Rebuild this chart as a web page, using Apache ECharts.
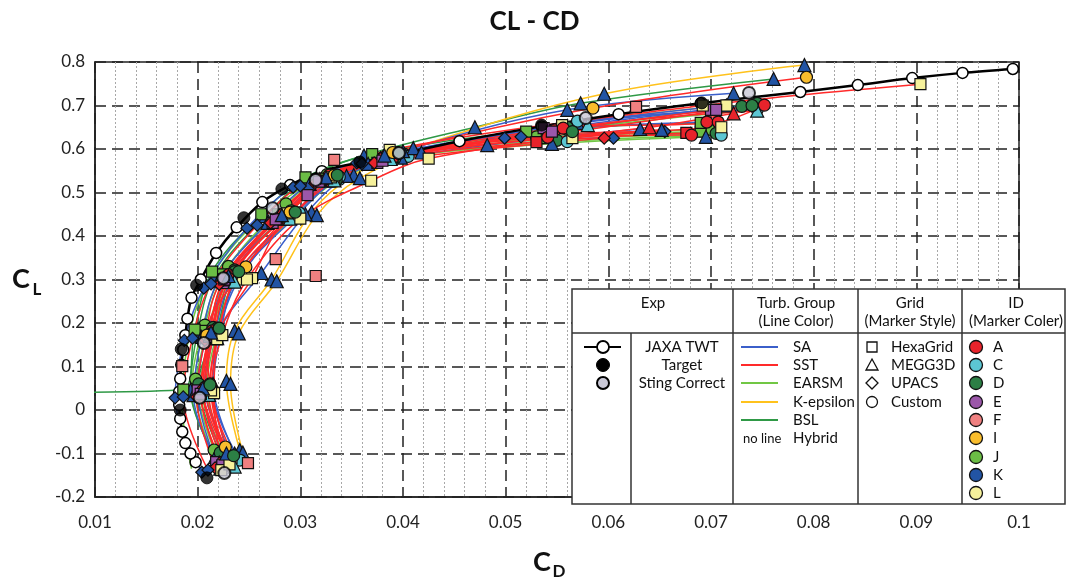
<!DOCTYPE html>
<html><head><meta charset="utf-8">
<script src="https://cdn.jsdelivr.net/npm/echarts@6/dist/echarts.min.js"></script>
<style>html,body{margin:0;padding:0;background:#fff}#c{width:1069px;height:583px}</style>
</head><body><div id="c"></div>
<script>
// ---------------- DATA ([CD, CL]) ----------------
// Experiment
const JAXA_TWT = [[0.0198,-0.120],[0.0193,-0.100],[0.0188,-0.076],[0.0185,-0.050],[0.0183,-0.020],[0.0182,0.012],[0.0182,0.042],[0.0183,0.072],[0.0184,0.104],[0.0186,0.138],[0.0188,0.172],[0.0190,0.210],[0.0194,0.258],[0.0203,0.300],[0.0218,0.361],[0.0238,0.420],[0.0263,0.478],[0.0290,0.517],[0.0321,0.549],[0.0380,0.580],[0.0455,0.618],[0.0535,0.652],[0.0610,0.680],[0.0690,0.705],[0.0787,0.731],[0.0843,0.747],[0.0896,0.763],[0.0945,0.775],[0.0994,0.784]];
const TARGET = [[0.0209,-0.156],[0.0183,0.000],[0.0184,0.140],[0.0199,0.287],[0.0245,0.442],[0.0282,0.508],[0.0358,0.570],[0.0535,0.655],[0.0691,0.706]];
const STING_CORRECT = [[0.0226,-0.145],[0.0202,0.028],[0.0206,0.154],[0.0225,0.303],[0.0273,0.464],[0.0315,0.529],[0.0396,0.591],[0.0578,0.671],[0.0737,0.729]];

// CFD – EARSM
const J_CUS_EARSM_1 = [[0.0216,-0.092],[0.0198,0.071],[0.0207,0.195],[0.0230,0.330],[0.0286,0.474],[0.0326,0.541],[0.0395,0.592],[0.0530,0.628],[0.0700,0.645]];
const J_HEX_EARSM = [[0.0219,-0.118],[0.0194,0.041],[0.0204,0.182],[0.0224,0.312],[0.0278,0.450],[0.0322,0.532],[0.0392,0.590],[0.0540,0.625],[0.0690,0.640]];
const D_CUS_EARSM = [[0.0226,-0.100],[0.0203,0.055],[0.0215,0.190],[0.0236,0.322],[0.0291,0.458],[0.0334,0.538],[0.0401,0.588],[0.0550,0.620],[0.0705,0.636]];
const C_CUS_EARSM = [[0.0232,-0.112],[0.0209,0.048],[0.0219,0.178],[0.0238,0.305],[0.0296,0.448],[0.0338,0.530],[0.0405,0.583],[0.0560,0.617],[0.0710,0.632]];
const K_MEG_EARSM = [[0.0219,-0.125],[0.0198,0.038],[0.0208,0.170],[0.0229,0.302],[0.0283,0.440],[0.0328,0.527],[0.0398,0.580],[0.0545,0.612],[0.0695,0.628]];
const J_CUS_EARSM_2 = [[0.0194,-0.135],[0.0185,0.010],[0.0190,0.150],[0.0203,0.260],[0.0232,0.370],[0.0272,0.462],[0.0330,0.545],[0.0420,0.600],[0.0580,0.650],[0.0740,0.690]];
// CFD – BSL
const K_MEG_BSL = [[0.0217,-0.108],[0.0193,0.046],[0.0200,0.180],[0.0217,0.310],[0.0266,0.446],[0.0306,0.531],[0.0362,0.585],[0.0470,0.650],[0.0573,0.705],[0.0761,0.761]];
const J_HEX_BSL = [[0.0020,0.040],[0.0186,0.047],[0.0197,0.185],[0.0214,0.318],[0.0262,0.450],[0.0305,0.535],[0.0370,0.588],[0.0520,0.640],[0.0690,0.660]];
const D_CUS_BSL = [[0.0222,-0.098],[0.0201,0.060],[0.0219,0.188],[0.0236,0.318],[0.0287,0.452],[0.0330,0.534],[0.0388,0.582],[0.0560,0.645],[0.0745,0.705]];
// CFD – K-epsilon
const K_MEG_KEPS = [[0.0241,-0.092],[0.0228,0.067],[0.0236,0.182],[0.0272,0.300],[0.0311,0.455],[0.0352,0.540],[0.0410,0.602],[0.0596,0.727],[0.0791,0.793]];
const K_MEG_KEPS_2 = [[0.0244,-0.098],[0.0232,0.060],[0.0240,0.176],[0.0277,0.296],[0.0316,0.448],[0.0358,0.533],[0.0418,0.592],[0.0570,0.660],[0.0715,0.700]];
// CFD – SA
const K_MEG_SA = [[0.0222,-0.135],[0.0196,0.034],[0.0204,0.168],[0.0220,0.296],[0.0268,0.430],[0.0309,0.520],[0.0366,0.566],[0.0482,0.609],[0.0631,0.646]];
const K_MEG_SA_2 = [[0.0236,-0.100],[0.0215,0.060],[0.0222,0.185],[0.0262,0.315],[0.0305,0.450],[0.0345,0.538],[0.0400,0.595],[0.0560,0.690],[0.0722,0.728]];
const K_UPA_SA = [[0.0204,-0.143],[0.0178,0.028],[0.0187,0.160],[0.0206,0.280],[0.0248,0.418],[0.0293,0.512],[0.0355,0.568],[0.0499,0.625],[0.0605,0.625]];
const A_CUS_SA = [[0.0232,-0.106],[0.0207,0.052],[0.0214,0.182],[0.0230,0.311],[0.0283,0.450],[0.0328,0.540],[0.0385,0.588],[0.0548,0.644],[0.0696,0.662]];
const C_CUS_SA = [[0.0241,-0.115],[0.0215,0.042],[0.0222,0.172],[0.0238,0.300],[0.0299,0.453],[0.0338,0.536],[0.0392,0.584],[0.0570,0.664],[0.0745,0.690]];
const E_HEX_SA = [[0.0218,-0.120],[0.0200,0.045],[0.0208,0.165],[0.0228,0.292],[0.0273,0.430],[0.0307,0.494],[0.0375,0.568],[0.0537,0.648],[0.0700,0.690]];
const D_CUS_SA = [[0.0229,-0.125],[0.0206,0.040],[0.0216,0.170],[0.0234,0.300],[0.0290,0.440],[0.0335,0.528],[0.0392,0.578],[0.0560,0.650],[0.0730,0.698]];
const L_HEX_SA = [[0.0233,-0.110],[0.0215,0.039],[0.0219,0.163],[0.0240,0.300],[0.0292,0.447],[0.0333,0.530],[0.0390,0.582],[0.0555,0.655],[0.0715,0.700]];
// CFD – SST
const A_HEX_SST = [[0.0226,-0.128],[0.0206,0.038],[0.0214,0.168],[0.0229,0.298],[0.0281,0.438],[0.0323,0.526],[0.0383,0.575],[0.0530,0.616],[0.0676,0.637]];
const A_MEG_SST = [[0.0221,-0.121],[0.0203,0.043],[0.0211,0.173],[0.0226,0.302],[0.0277,0.442],[0.0319,0.531],[0.0378,0.579],[0.0640,0.650],[0.0722,0.682]];
const A_UPA_SST = [[0.0217,-0.133],[0.0199,0.030],[0.0207,0.160],[0.0221,0.289],[0.0271,0.430],[0.0314,0.521],[0.0372,0.568],[0.0596,0.625]];
const A_CUS_SST = [[0.0230,-0.110],[0.0208,0.047],[0.0216,0.177],[0.0233,0.306],[0.0286,0.447],[0.0331,0.534],[0.0390,0.580],[0.0541,0.627],[0.0681,0.632]];
const A_CUS_SST_2 = [[0.0228,-0.118],[0.0205,0.045],[0.0213,0.175],[0.0230,0.303],[0.0284,0.444],[0.0327,0.532],[0.0386,0.581],[0.0556,0.648],[0.0707,0.662],[0.0752,0.701]];
const C_MEG_SST = [[0.0236,-0.130],[0.0211,0.035],[0.0219,0.165],[0.0236,0.295],[0.0290,0.440],[0.0333,0.528],[0.0388,0.577],[0.0580,0.655],[0.0745,0.688]];
const E_HEX_SST = [[0.0224,-0.127],[0.0203,0.037],[0.0211,0.168],[0.0226,0.300],[0.0276,0.438],[0.0318,0.525],[0.0380,0.573],[0.0545,0.640],[0.0705,0.690]];
const L_HEX_SST = [[0.0223,-0.138],[0.0216,0.039],[0.0219,0.163],[0.0253,0.303],[0.0287,0.452],[0.0330,0.535],[0.0387,0.598],[0.0692,0.700],[0.0904,0.749]];
const L_HEX_SST_2 = [[0.0231,-0.125],[0.0213,0.045],[0.0224,0.172],[0.0248,0.300],[0.0300,0.440],[0.0369,0.527],[0.0425,0.578],[0.0565,0.625],[0.0710,0.650]];
const I_CUS_SST = [[0.0227,-0.085],[0.0212,0.060],[0.0209,0.172],[0.0247,0.329],[0.0290,0.455],[0.0333,0.540],[0.0390,0.592],[0.0585,0.694],[0.0793,0.765]];
const K_UPA_SST = [[0.0210,-0.138],[0.0186,0.030],[0.0195,0.165],[0.0213,0.290],[0.0258,0.425],[0.0300,0.515],[0.0360,0.566],[0.0515,0.628],[0.0655,0.640]];
const K_MEG_SST = [[0.0228,-0.100],[0.0205,0.050],[0.0213,0.178],[0.0230,0.308],[0.0282,0.448],[0.0325,0.535],[0.0382,0.585],[0.0652,0.644]];
const D_CUS_SST = [[0.0235,-0.105],[0.0212,0.058],[0.0221,0.188],[0.0240,0.318],[0.0295,0.455],[0.0336,0.540],[0.0396,0.590],[0.0565,0.640],[0.0740,0.700]];
// CFD – Hybrid (no line)
const F_HEX_HYB = [[0.0249,-0.122],[0.0185,0.101],[0.0315,0.308],[0.0276,0.347],[0.0333,0.575],[0.0627,0.697]];

const CASES = [
  {id:'J', grid:'Custom', turb:'EARSM', data:J_CUS_EARSM_1},
  {id:'J', grid:'HexaGrid', turb:'EARSM', data:J_HEX_EARSM},
  {id:'D', grid:'Custom', turb:'EARSM', data:D_CUS_EARSM},
  {id:'C', grid:'Custom', turb:'EARSM', data:C_CUS_EARSM},
  {id:'K', grid:'MEGG3D', turb:'EARSM', data:K_MEG_EARSM},
  {id:'J', grid:'Custom', turb:'EARSM', data:J_CUS_EARSM_2, hideMarks:true},
  {id:'K', grid:'MEGG3D', turb:'BSL', data:K_MEG_BSL},
  {id:'J', grid:'HexaGrid', turb:'BSL', data:J_HEX_BSL},
  {id:'D', grid:'Custom', turb:'BSL', data:D_CUS_BSL},
  {id:'K', grid:'MEGG3D', turb:'K-epsilon', data:K_MEG_KEPS},
  {id:'K', grid:'MEGG3D', turb:'K-epsilon', data:K_MEG_KEPS_2},
  {id:'K', grid:'MEGG3D', turb:'SA', data:K_MEG_SA},
  {id:'K', grid:'MEGG3D', turb:'SA', data:K_MEG_SA_2},
  {id:'K', grid:'UPACS', turb:'SA', data:K_UPA_SA},
  {id:'A', grid:'Custom', turb:'SA', data:A_CUS_SA},
  {id:'C', grid:'Custom', turb:'SA', data:C_CUS_SA},
  {id:'E', grid:'HexaGrid', turb:'SA', data:E_HEX_SA},
  {id:'D', grid:'Custom', turb:'SA', data:D_CUS_SA},
  {id:'L', grid:'HexaGrid', turb:'SA', data:L_HEX_SA},
  {id:'A', grid:'HexaGrid', turb:'SST', data:A_HEX_SST},
  {id:'A', grid:'MEGG3D', turb:'SST', data:A_MEG_SST},
  {id:'A', grid:'UPACS', turb:'SST', data:A_UPA_SST},
  {id:'A', grid:'Custom', turb:'SST', data:A_CUS_SST},
  {id:'A', grid:'Custom', turb:'SST', data:A_CUS_SST_2},
  {id:'C', grid:'MEGG3D', turb:'SST', data:C_MEG_SST},
  {id:'E', grid:'HexaGrid', turb:'SST', data:E_HEX_SST},
  {id:'L', grid:'HexaGrid', turb:'SST', data:L_HEX_SST},
  {id:'L', grid:'HexaGrid', turb:'SST', data:L_HEX_SST_2},
  {id:'I', grid:'Custom', turb:'SST', data:I_CUS_SST},
  {id:'K', grid:'UPACS', turb:'SST', data:K_UPA_SST},
  {id:'K', grid:'MEGG3D', turb:'SST', data:K_MEG_SST},
  {id:'D', grid:'Custom', turb:'SST', data:D_CUS_SST},
  {id:'F', grid:'HexaGrid', turb:'Hybrid', data:F_HEX_HYB}
];

// Legend texts
const EXP_NAMES = ['JAXA TWT','Target','Sting Correct'];
const TURB_NAMES = ['SA','SST','EARSM','K-epsilon','BSL','Hybrid'];
const GRID_NAMES = ['HexaGrid','MEGG3D','UPACS','Custom'];
const ID_NAMES = ['A','C','D','E','F','I','J','K','L'];

// ---------------- STYLES ----------------
const ID_COLOR = {A:'#e8232b',C:'#5cc6d3',D:'#2c7f45',E:'#9b57a9',F:'#ef8080',I:'#f9bd2d',J:'#6bbd45',K:'#2254a4',L:'#f6f19b'};
const TURB_COLOR = {'SA':'#3b5fca','SST':'#ff2a2a','EARSM':'#71c744','K-epsilon':'#ffc21c','BSL':'#2f9946','Hybrid':null};
const GRID_SYMBOL = {'HexaGrid':'rect','MEGG3D':'triangle','UPACS':'diamond','Custom':'circle'};
const SYM_SIZE = {rect:11, triangle:13, diamond:12, circle:12};
const FONT = 'Lato, "Open Sans", sans-serif';

const series = [];
CASES.forEach(c => {
  if (TURB_COLOR[c.turb]) {
    series.push({type:'line', data:c.data, smooth:0.35, showSymbol:false, symbol:'none',
      lineStyle:{color:TURB_COLOR[c.turb], width:1.5}, z:2, silent:true, animation:false});
  }
});
series.push({type:'line', data:JAXA_TWT, smooth:0.3, symbol:'circle', symbolSize:11, showSymbol:true,
  lineStyle:{color:'#000', width:2.5}, itemStyle:{color:'#fff', borderColor:'#000', borderWidth:1.5}, z:3, silent:true, animation:false});
CASES.forEach(c => {
  if (c.hideMarks) return;
  const sym = GRID_SYMBOL[c.grid];
  series.push({type:'scatter', data:c.data, symbol:sym, symbolSize:SYM_SIZE[sym],
    itemStyle:{color:ID_COLOR[c.id], borderColor:'#111', borderWidth:1.2, opacity:1}, z:4, silent:true, animation:false});
});
series.push({type:'scatter', data:TARGET, symbol:'circle', symbolSize:12,
  itemStyle:{color:'#000', borderColor:'#000', borderWidth:1}, z:5, silent:true, animation:false});
series.push({type:'scatter', data:STING_CORRECT, symbol:'circle', symbolSize:12,
  itemStyle:{color:'#c9c8d6', borderColor:'#000', borderWidth:2}, z:5, silent:true, animation:false});

// ---------------- LEGEND TABLE (graphic) ----------------
const G = [];
const Z = 100;
function txt(x, y, s, opt) {
  opt = opt || {};
  G.push({type:'text', x:x, y:y, z:Z+2, style:{text:s, fill:'#111', font:(opt.size||15)+'px '+FONT,
    align:opt.align||'center', verticalAlign:'middle', textAlign:opt.align||'center', textVerticalAlign:'middle'}});
}
function ln(x1,y1,x2,y2,color,w){ G.push({type:'line', z:Z+1, shape:{x1,y1,x2,y2}, style:{stroke:color, lineWidth:w}}); }
const BX0=572, BX1=1065, BY0=289, BY1=504, HY=333;
G.push({type:'rect', z:Z, shape:{x:BX0,y:BY0,width:BX1-BX0,height:BY1-BY0}, style:{fill:'#fff', stroke:'#333', lineWidth:1.5}});
ln(BX0,HY,BX1,HY,'#333',1.5);
[733,858,962].forEach(x=>ln(x,BY0,x,BY1,'#333',1.5));
ln(631,HY,631,BY1,'#333',1.5);
txt(653,303,'Exp');
txt(796,303,'Turb. Group'); txt(796,321,'(Line Color)');
txt(910,303,'Grid'); txt(910,321,'(Marker Style)');
txt(1016,303,'ID'); txt(1016,321,'(Marker Coler)');
const ROWS = [347,365,383,402,420,438,457,475,493];
// Exp
ln(584,ROWS[0],621,ROWS[0],'#000',2);
G.push({type:'circle', z:Z+2, shape:{cx:603,cy:ROWS[0],r:6}, style:{fill:'#fff',stroke:'#000',lineWidth:1.8}});
G.push({type:'circle', z:Z+2, shape:{cx:603,cy:ROWS[1],r:6.5}, style:{fill:'#000',stroke:'#000',lineWidth:1}});
G.push({type:'circle', z:Z+2, shape:{cx:603,cy:ROWS[2],r:6}, style:{fill:'#c9c8d6',stroke:'#000',lineWidth:2}});
EXP_NAMES.forEach((n,i)=>txt(682,ROWS[i],n));
// Turb
TURB_NAMES.forEach((n,i)=>{
  if (TURB_COLOR[n]) ln(741,ROWS[i],778,ROWS[i],TURB_COLOR[n],1.8);
  else txt(743,ROWS[i]+1,'no line',{align:'left',size:13});
  txt(793,ROWS[i],n,{align:'left'});
});
// Grid
GRID_NAMES.forEach((n,i)=>{
  const y=ROWS[i], x=872, st={fill:'#fff',stroke:'#111',lineWidth:1.3};
  const sym = GRID_SYMBOL[n];
  if (sym==='rect') G.push({type:'rect', z:Z+2, shape:{x:x-5,y:y-5,width:10,height:10}, style:st});
  if (sym==='triangle') G.push({type:'polygon', z:Z+2, shape:{points:[[x,y-6],[x+6,y+5],[x-6,y+5]]}, style:st});
  if (sym==='diamond') G.push({type:'polygon', z:Z+2, shape:{points:[[x,y-6],[x+6,y],[x,y+6],[x-6,y]]}, style:st});
  if (sym==='circle') G.push({type:'circle', z:Z+2, shape:{cx:x,cy:y,r:5.5}, style:st});
  txt(891,y,n,{align:'left'});
});
// ID
ID_NAMES.forEach((n,i)=>{
  G.push({type:'circle', z:Z+2, shape:{cx:976,cy:ROWS[i],r:6.5}, style:{fill:ID_COLOR[n],stroke:'#111',lineWidth:1.3}});
  txt(993,ROWS[i],n,{align:'left'});
});
// axis titles with subscripts
G.push({type:'text', x:21, y:279, z:Z, style:{text:'C', font:'bold 27px '+FONT, fill:'#111', align:'center', verticalAlign:'middle', textAlign:'center', textVerticalAlign:'middle'}});
G.push({type:'text', x:37, y:290, z:Z, style:{text:'L', font:'bold 17px '+FONT, fill:'#111', align:'center', verticalAlign:'middle', textAlign:'center', textVerticalAlign:'middle'}});
G.push({type:'text', x:542, y:562, z:Z, style:{text:'C', font:'bold 27px '+FONT, fill:'#111', align:'center', verticalAlign:'middle', textAlign:'center', textVerticalAlign:'middle'}});
G.push({type:'text', x:559, y:572, z:Z, style:{text:'D', font:'bold 17px '+FONT, fill:'#111', align:'center', verticalAlign:'middle', textAlign:'center', textVerticalAlign:'middle'}});

const chart = echarts.init(document.getElementById('c'), null, {renderer:'canvas'});
chart.setOption({
  animation:false,
  backgroundColor:'#fff',
  title:{text:'CL - CD', left:'center', top:4, textStyle:{fontFamily:FONT, fontWeight:'bold', fontSize:26, color:'#111'}},
  grid:{left:95, right:50, top:62, bottom:86, show:true, borderColor:'#222', borderWidth:1.5, backgroundColor:'transparent'},
  xAxis:{type:'value', min:0.01, max:0.1, interval:0.01,
    axisLine:{show:true, onZero:false, lineStyle:{color:'#222', width:1.5}}, axisTick:{show:false},
    axisLabel:{fontFamily:FONT, fontSize:17, color:'#222', margin:17, formatter:v=>String(+v.toFixed(2))},
    splitLine:{show:true, lineStyle:{color:'#222', width:1.5, type:[11,6]}},
    minorTick:{show:false, splitNumber:5},
    minorSplitLine:{show:true, lineStyle:{color:'#a8a8a8', width:1, type:[2,2]}}},
  yAxis:{type:'value', min:-0.2, max:0.8, interval:0.1,
    axisLine:{show:true, onZero:false, lineStyle:{color:'#222', width:1.5}}, axisTick:{show:false},
    axisLabel:{fontFamily:FONT, fontSize:17, color:'#222', margin:10, formatter:v=>String(+v.toFixed(1))},
    splitLine:{show:true, lineStyle:{color:'#222', width:1.5, type:[11,6]}}},
  series: series,
  graphic: G
});
</script></body></html>
